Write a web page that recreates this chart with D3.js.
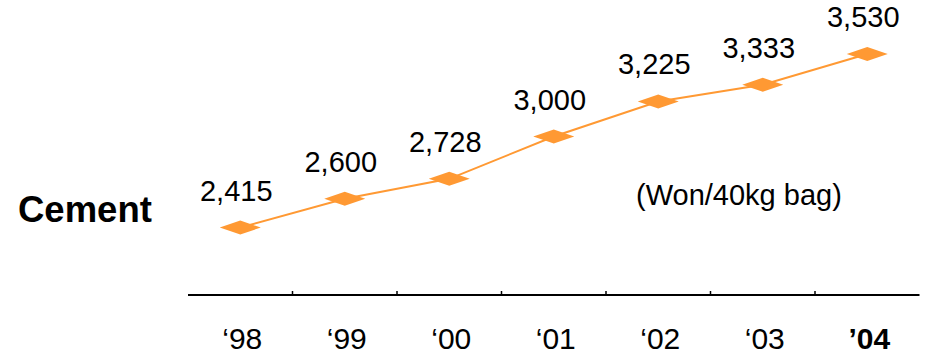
<!DOCTYPE html>
<html>
<head>
<meta charset="utf-8">
<script src="https://cdn.jsdelivr.net/npm/d3@7"></script>
<style>
  html, body { margin: 0; padding: 0; background: #fff; }
  svg { display: block; font-family: "Liberation Sans", Arial, sans-serif; }
</style>
</head>
<body>
<svg id="chart" width="928" height="359"></svg>
<script>
// Cement price per 40kg bag, 1998-2004
const years = ["98", "99", "00", "01", "02", "03", "04"];
const yearLabels = ["\u201898", "\u201899", "\u201800", "\u201801", "\u201802", "\u201803", "\u201904"];
const prices = [2415, 2600, 2728, 3000, 3225, 3333, 3530];
const priceLabels = ["2,415", "2,600", "2,728", "3,000", "3,225", "3,333", "3,530"];
const seriesName = "Cement";
const unitLabel = "(Won/40kg bag)";

const orange = "#FF9933";
const svg = d3.select("#chart");

const x = d3.scaleBand().domain(years).range([188, 919.5]).padding(0);
const y = d3.scaleLinear().domain([2000, 4000]).range([292.1, -19.1]);
const cx = d => x(d) + x.bandwidth() / 2;

// baseline axis with small upward ticks between categories
const axisY = 295;
svg.append("line")
  .attr("x1", x.range()[0]).attr("x2", x.range()[1])
  .attr("y1", axisY).attr("y2", axisY)
  .attr("stroke", "#000").attr("stroke-width", 2);
svg.selectAll("line.tick")
  .data(years.slice(1))
  .join("line")
  .attr("class", "tick")
  .attr("x1", d => x(d)).attr("x2", d => x(d))
  .attr("y1", axisY - 4).attr("y2", axisY)
  .attr("stroke", "#000").attr("stroke-width", 1.5);

// year labels, latest year in bold
svg.selectAll("text.year")
  .data(years)
  .join("text")
  .attr("class", "year")
  .attr("x", d => cx(d) + 2)
  .attr("y", 349)
  .attr("text-anchor", "middle")
  .attr("font-size", 30)
  .attr("font-weight", (d, i) => i === years.length - 1 ? "bold" : "normal")
  .attr("fill", "#000")
  .text((d, i) => yearLabels[i]);

// price line
const line = d3.line()
  .x((d, i) => cx(years[i]))
  .y(d => y(d));
svg.append("path")
  .datum(prices)
  .attr("d", line)
  .attr("fill", "none")
  .attr("stroke", orange)
  .attr("stroke-width", 2);

// flattened diamond markers
const hw = 20.5, hh = 7;
svg.selectAll("path.marker")
  .data(prices)
  .join("path")
  .attr("class", "marker")
  .attr("d", (d, i) => {
    const px = cx(years[i]), py = y(d);
    return `M${px - hw},${py}L${px},${py - hh}L${px + hw},${py}L${px},${py + hh}Z`;
  })
  .attr("fill", orange);

// value labels above each marker
svg.selectAll("text.value")
  .data(prices)
  .join("text")
  .attr("class", "value")
  .attr("x", (d, i) => cx(years[i]) - 4)
  .attr("y", d => y(d) - 27)
  .attr("text-anchor", "middle")
  .attr("font-size", 29)
  .attr("fill", "#000")
  .text((d, i) => priceLabels[i]);

// series name and unit
svg.append("text")
  .attr("x", 18).attr("y", 222)
  .attr("font-size", 36.5)
  .attr("font-weight", "bold")
  .attr("fill", "#000")
  .text(seriesName);

svg.append("text")
  .attr("x", 636).attr("y", 205)
  .attr("font-size", 29)
  .attr("fill", "#000")
  .text(unitLabel);
</script>
</body>
</html>
